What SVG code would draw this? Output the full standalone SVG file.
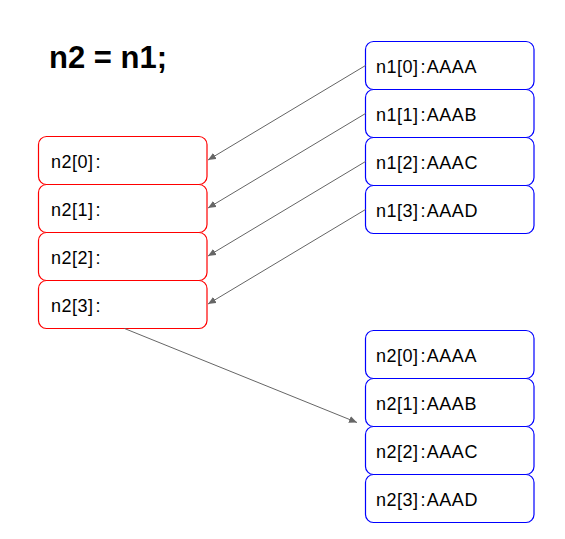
<svg xmlns="http://www.w3.org/2000/svg" width="565" height="539" viewBox="0 0 565 539">
<style>
.bg{fill:#ffffff}
.red rect{fill:#ffffff;stroke:#ff0000;stroke-width:1.2}
.blue rect{fill:#ffffff;stroke:#0000ff;stroke-width:1.2}
text.lbl{font-family:"Liberation Sans",Arial,sans-serif;font-size:18px;fill:#000000;letter-spacing:0.5px}
text.title{font-family:"Liberation Sans",Arial,sans-serif;font-size:31px;font-weight:bold;fill:#000000}
#connectors line{stroke:#666666;stroke-width:1;fill:none;marker-end:url(#arr)}
</style>
<defs>
<marker id="arr" markerUnits="userSpaceOnUse" markerWidth="10" markerHeight="8" refX="8" refY="3.5" orient="auto">
<path d="M0,0 L8,3.5 L0,7 z" fill="#666666"/>
</marker>
</defs>
<rect class="bg" x="0" y="0" width="565" height="539"/>
<g id="title"><text class="title" x="49" y="67.5">n2 = n1;</text></g>

<g id="n2_0" class="red"><rect x="38.5" y="136.5" width="168.5" height="48" rx="8"/><text class="lbl" x="51" y="167.5">n2[0]<tspan dx="2">:</tspan></text></g>
<g id="n2_1" class="red"><rect x="38.5" y="184.5" width="168.5" height="48" rx="8"/><text class="lbl" x="51" y="215.5">n2[1]<tspan dx="2">:</tspan></text></g>
<g id="n2_2" class="red"><rect x="38.5" y="232.5" width="168.5" height="48" rx="8"/><text class="lbl" x="51" y="263.5">n2[2]<tspan dx="2">:</tspan></text></g>
<g id="n2_3" class="red"><rect x="38.5" y="280.5" width="168.5" height="48" rx="8"/><text class="lbl" x="51" y="311.5">n2[3]<tspan dx="2">:</tspan></text></g>

<g id="n1_0" class="blue"><rect x="365.5" y="41.5" width="168.5" height="48" rx="8"/><text class="lbl" x="376" y="73">n1[0]<tspan dx="2">:</tspan><tspan dx="0.8">AAAA</tspan></text></g>
<g id="n1_1" class="blue"><rect x="365.5" y="89.5" width="168.5" height="48" rx="8"/><text class="lbl" x="376" y="121">n1[1]<tspan dx="2">:</tspan><tspan dx="0.8">AAAB</tspan></text></g>
<g id="n1_2" class="blue"><rect x="365.5" y="137.5" width="168.5" height="48" rx="8"/><text class="lbl" x="376" y="169">n1[2]<tspan dx="2">:</tspan><tspan dx="0.8">AAAC</tspan></text></g>
<g id="n1_3" class="blue"><rect x="365.5" y="185.5" width="168.5" height="48" rx="8"/><text class="lbl" x="376" y="217">n1[3]<tspan dx="2">:</tspan><tspan dx="0.8">AAAD</tspan></text></g>

<g id="n2b_0" class="blue"><rect x="365.5" y="330.5" width="168.5" height="48" rx="8"/><text class="lbl" x="376" y="362">n2[0]<tspan dx="2">:</tspan><tspan dx="0.8">AAAA</tspan></text></g>
<g id="n2b_1" class="blue"><rect x="365.5" y="378.5" width="168.5" height="48" rx="8"/><text class="lbl" x="376" y="410">n2[1]<tspan dx="2">:</tspan><tspan dx="0.8">AAAB</tspan></text></g>
<g id="n2b_2" class="blue"><rect x="365.5" y="426.5" width="168.5" height="48" rx="8"/><text class="lbl" x="376" y="458">n2[2]<tspan dx="2">:</tspan><tspan dx="0.8">AAAC</tspan></text></g>
<g id="n2b_3" class="blue"><rect x="365.5" y="474.5" width="168.5" height="48" rx="8"/><text class="lbl" x="376" y="506">n2[3]<tspan dx="2">:</tspan><tspan dx="0.8">AAAD</tspan></text></g>

<g id="connectors">
<line x1="365.5" y1="65.5" x2="208" y2="160"/>
<line x1="365.5" y1="113.5" x2="208" y2="208"/>
<line x1="365.5" y1="161.5" x2="208" y2="256"/>
<line x1="365.5" y1="209.5" x2="208" y2="304"/>
<line x1="124.5" y1="328.5" x2="357" y2="422.5"/>
</g>
</svg>
